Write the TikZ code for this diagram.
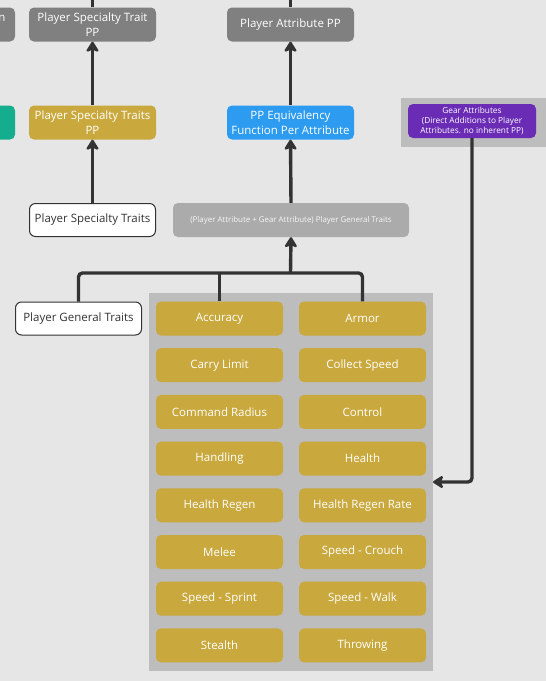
\documentclass[tikz,border=0pt]{standalone}
\usepackage{fontspec}
\setmainfont{Open Sans}
\usetikzlibrary{arrows.meta}
\definecolor{bg}{HTML}{E6E6E6}
\definecolor{ngray}{HTML}{808080}
\definecolor{nyellow}{HTML}{C9A93E}
\definecolor{nblue}{HTML}{2D9CF0}
\definecolor{nteal}{HTML}{14AE8E}
\definecolor{npurple}{HTML}{6A2BB5}
\definecolor{ngen}{HTML}{ABABAB}
\definecolor{ncont}{HTML}{BDBDBD}
\definecolor{lineC}{HTML}{333333}
\definecolor{txtdark}{HTML}{333333}
\begin{document}
\begin{tikzpicture}[x=1pt,y=-1pt,
  box/.style={rounded corners=5pt, minimum width=127pt, minimum height=34pt, inner sep=1pt, align=center, text=white, font=\fontsize{11.5}{15}\selectfont},
  graybox/.style={box, fill=ngray},
  yellowbox/.style={box, fill=nyellow},
  bluebox/.style={box, fill=nblue},
  tealbox/.style={box, fill=nteal},
  purplebox/.style={box, fill=npurple, minimum width=128pt, font=\fontsize{8.3}{10}\selectfont},
  genbox/.style={box, fill=ngen, minimum width=236pt, text=white!93!gray, font=\fontsize{7.9}{10}\selectfont},
  whitebox/.style={box, fill=white, draw=txtdark, line width=1pt, rounded corners=6pt, text=txtdark, minimum width=126pt, minimum height=33pt},
  itembox/.style={box, fill=nyellow},
  conn/.style={draw=lineC, line width=3.4pt},
  arr/.style={conn, -{Stealth[length=12pt,width=15pt,inset=3pt,round]}},
]
\useasboundingbox (0,0) rectangle (546,681);
\clip (0,0) rectangle (546,681);
\fill[bg] (0,0) rectangle (546,681);

% gear background
\fill[ncont] (401,98) rectangle (546,147);
% container
\node[fill=ncont, minimum width=284pt, minimum height=378pt, inner sep=0pt, anchor=north west] (cont) at (149,293) {};

% partial nodes at left edge
\node[graybox] (leftgray) at (-48.5,24.5) {};
\node[text=white, font=\fontsize{11.5}{15}\selectfont, inner sep=0pt] (leftn) at (2,18) {n};
\node[tealbox] (leftteal) at (-48.5,122.5) {};

% top row
\node[graybox] (sptpp) at (92.5,24.5) {Player Specialty Trait\\PP};
\node[graybox] (pap) at (290.5,24.5) {Player Attribute PP};

% second row
\node[yellowbox] (spts) at (92.5,122.5) {Player Specialty Traits\\PP};
\node[bluebox] (ppeq) at (290.5,122.5) {PP Equivalency\\Function Per Attribute};
\node[purplebox] (gear) at (472,121) {Gear Attributes\\(Direct Additions to Player\\Attributes. no inherent PP)};

% third row
\node[whitebox] (spt) at (92.5,220) {Player Specialty Traits};
\node[genbox] (gen) at (291,220) {(Player Attribute + Gear Attribute) Player General Traits};

% general traits
\node[whitebox] (pgt) at (78.5,318.5) {Player General Traits};

% items
\foreach \name/\txt/\col/\row in {
  acc/Accuracy/0/0, arm/Armor/1/0,
  car/Carry Limit/0/1, col/Collect Speed/1/1,
  cmd/Command Radius/0/2, ctl/Control/1/2,
  han/Handling/0/3, hea/Health/1/3,
  hr/Health Regen/0/4, hrr/Health Regen Rate/1/4,
  mel/Melee/0/5, scr/Speed - Crouch/1/5,
  ssp/Speed - Sprint/0/6, swa/Speed - Walk/1/6,
  ste/Stealth/0/7, thr/Throwing/1/7}
{
  \node[itembox] (\name) at (219.5+143*\col, 318.5+46.7*\row) {\txt};
}

% connectors off the top
\coordinate (topL) at (92.5,-5);
\coordinate (topC) at (290.5,-5);
\draw[conn] (sptpp.north) -- (topL);
\draw[conn] (pap.north) -- (topC);

% vertical arrows
\draw[arr] (spts.north) -- (sptpp.south);
\draw[arr] (ppeq.north) -- (pap.south);
\draw[arr] (spt.north) -- (spts.south);
\draw[arr] (gen.north) -- (ppeq.south);

% bus
\coordinate (bus) at (290.5,273);
\draw[conn, rounded corners=4pt] (pgt.north) |- (arm.north |- bus) -- (arm.north);
\draw[conn] (acc.north) -- (acc.north |- bus);
\draw[arr] (bus) -- (gen.south);

% gear arrow
\coordinate (gearin) at (433,482);
\draw[arr, rounded corners=4pt] (gear.south) |- (gearin);
\end{tikzpicture}
\end{document}
